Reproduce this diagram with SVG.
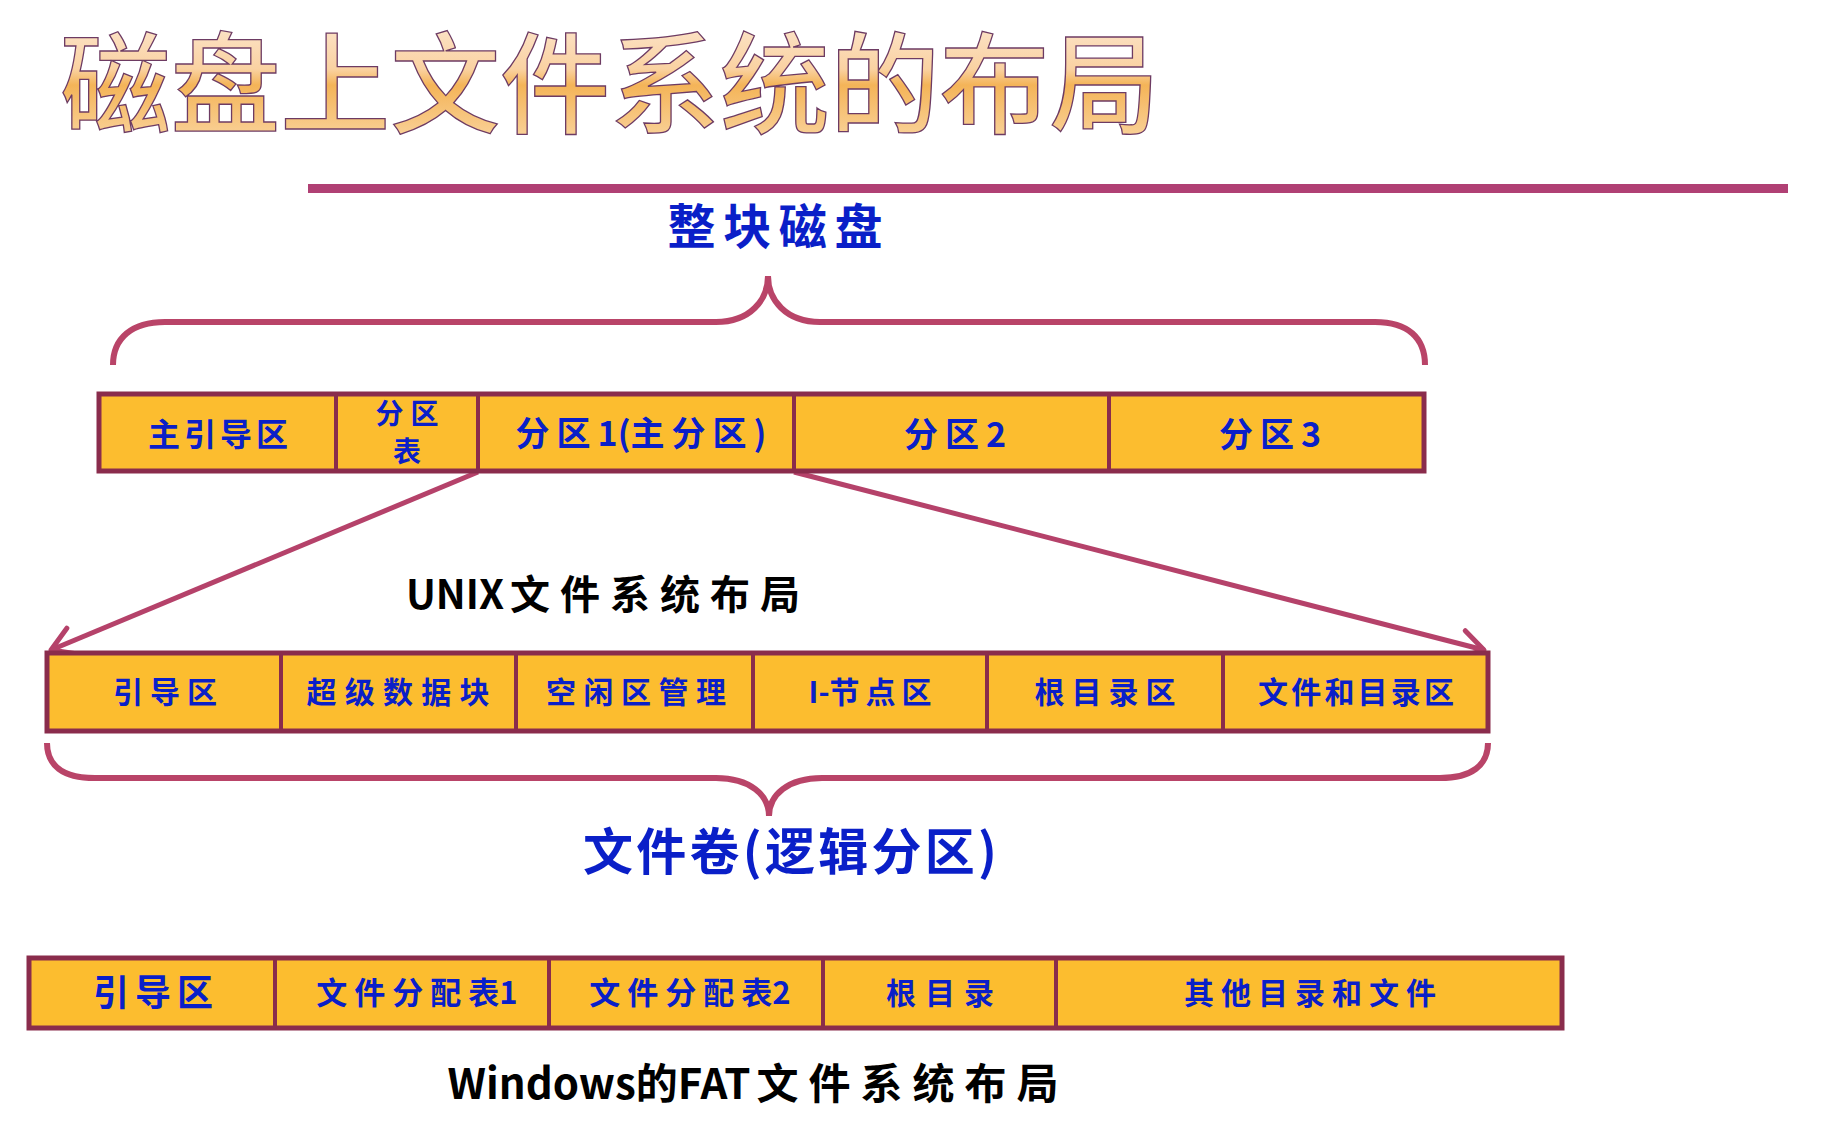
<svg xmlns="http://www.w3.org/2000/svg" width="1828" height="1134" viewBox="0 0 1828 1134">
<defs>
<linearGradient id="tg" x1="0" y1="0" x2="0" y2="1">
<stop offset="0" stop-color="#fdeee0"/>
<stop offset="0.45" stop-color="#fad2a2"/>
<stop offset="0.55" stop-color="#f4b458"/>
<stop offset="1" stop-color="#fbdcb0"/>
</linearGradient>
<marker id="ah" viewBox="-28 -18 32 36" markerWidth="32" markerHeight="36" refX="0" refY="0" orient="auto" markerUnits="userSpaceOnUse">
<path d="M-23,-14 L0,0 L-23,14" fill="none" stroke="#b5426a" stroke-width="5" stroke-linecap="round" stroke-linejoin="round"/>
</marker>
<style>
.cell{fill:#fcbd2f;stroke:#8a2c4c;stroke-width:4}
.lbl{font-family:"Noto Sans CJK SC","Noto Sans",sans-serif;font-weight:700;fill:#0a1fc8;text-anchor:middle}
.blk{font-family:"Noto Sans CJK SC","Noto Sans",sans-serif;font-weight:700;fill:#000;text-anchor:middle}
.brace{fill:none;stroke:#b94468;stroke-width:6;stroke-linecap:butt}
.conn{fill:none;stroke:#b5426a;stroke-width:5}
</style>
</defs>
<rect width="1828" height="1134" fill="#fff"/>
<text x="610" y="125" font-family="'Noto Sans CJK SC',sans-serif" font-weight="500" font-size="110" fill="url(#tg)" stroke="#6d3b63" stroke-width="1.3" text-anchor="middle" textLength="1099" lengthAdjust="spacing">磁盘上文件系统的布局</text>
<rect x="308" y="184" width="1480" height="9" fill="#b04074"/>
<g id="label-disk"><text class="lbl" x="775" y="244" font-size="48" textLength="215" lengthAdjust="spacing">整块磁盘</text></g>
<g id="connectors">
<path class="brace" d="M113,365 C113,338 132,322 165,322 L716,322 C750,322 768,300 768,276 C768,300 786,322 820,322 L1375,322 C1408,322 1425,338 1425,365"/>
<path class="brace" d="M47,743 C47,765 62,778 95,778 L716,778 C750,778 769,795 769,816 C769,795 788,778 822,778 L1440,778 C1472,778 1488,765 1488,743"/>
<line class="conn" x1="478" y1="472" x2="51" y2="650" marker-end="url(#ah)"/>
<line class="conn" x1="794" y1="472" x2="1484" y2="650" marker-end="url(#ah)"/>
</g>
<g id="disk-row">
<g id="n-mbr"><rect class="cell" x="99" y="394" width="237" height="77"/><text class="lbl" x="218" y="446" font-size="32" textLength="140" lengthAdjust="spacing">主引导区</text></g>
<g id="n-ptable"><rect class="cell" x="336" y="394" width="142" height="77"/><text class="lbl" x="407" y="424" font-size="28" textLength="63" lengthAdjust="spacing">分区</text><text class="lbl" x="407" y="462" font-size="28">表</text></g>
<g id="n-p1"><rect class="cell" x="478" y="394" width="316" height="77"/><text class="lbl" x="641" y="446" font-size="34"><tspan letter-spacing="7">分区</tspan><tspan>1(</tspan><tspan letter-spacing="7">主分区</tspan><tspan>)</tspan></text></g>
<g id="n-p2"><rect class="cell" x="794" y="394" width="315" height="77"/><text class="lbl" x="955" y="447" font-size="34"><tspan letter-spacing="7">分区</tspan><tspan>2</tspan></text></g>
<g id="n-p3"><rect class="cell" x="1109" y="394" width="315" height="77"/><text class="lbl" x="1270" y="447" font-size="34"><tspan letter-spacing="7">分区</tspan><tspan>3</tspan></text></g>
<rect x="99" y="394" width="1325" height="77" fill="none" stroke="#8a2c4c" stroke-width="5"/>
</g>
<g id="label-unix"><text class="blk" x="608" y="609" font-size="40"><tspan>UNIX</tspan><tspan dx="6" letter-spacing="10">文件系统布局</tspan></text></g>
<g id="unix-row">
<g id="u-boot"><rect class="cell" x="47" y="653" width="234" height="78"/><text class="lbl" x="165" y="703" font-size="30" textLength="104" lengthAdjust="spacing">引导区</text></g>
<g id="u-super"><rect class="cell" x="281" y="653" width="235" height="78"/><text class="lbl" x="398" y="703" font-size="30" textLength="183" lengthAdjust="spacing">超级数据块</text></g>
<g id="u-free"><rect class="cell" x="516" y="653" width="237" height="78"/><text class="lbl" x="636" y="703" font-size="30" textLength="180" lengthAdjust="spacing">空闲区管理</text></g>
<g id="u-inode"><rect class="cell" x="753" y="653" width="234" height="78"/><text class="lbl" x="873" y="703" font-size="30"><tspan>I-</tspan><tspan letter-spacing="6">节点区</tspan></text></g>
<g id="u-root"><rect class="cell" x="987" y="653" width="236" height="78"/><text class="lbl" x="1105" y="703" font-size="30" textLength="141" lengthAdjust="spacing">根目录区</text></g>
<g id="u-files"><rect class="cell" x="1223" y="653" width="265" height="78"/><text class="lbl" x="1356" y="703" font-size="30" textLength="196" lengthAdjust="spacing">文件和目录区</text></g>
<rect x="47" y="653" width="1441" height="78" fill="none" stroke="#8a2c4c" stroke-width="5"/>
</g>
<g id="label-volume"><text class="lbl" x="790" y="870" font-size="50" textLength="414" lengthAdjust="spacing">文件卷(逻辑分区)</text></g>
<g id="fat-row">
<g id="f-boot"><rect class="cell" x="29" y="958" width="246" height="70"/><text class="lbl" x="153" y="1006" font-size="36" textLength="120" lengthAdjust="spacing">引导区</text></g>
<g id="f-fat1"><rect class="cell" x="275" y="958" width="274" height="70"/><text class="lbl" x="417" y="1004" font-size="31"><tspan letter-spacing="7">文件分配</tspan><tspan>表1</tspan></text></g>
<g id="f-fat2"><rect class="cell" x="549" y="958" width="274" height="70"/><text class="lbl" x="690" y="1004" font-size="31"><tspan letter-spacing="7">文件分配</tspan><tspan>表2</tspan></text></g>
<g id="f-root"><rect class="cell" x="823" y="958" width="233" height="70"/><text class="lbl" x="940" y="1004" font-size="30" textLength="108" lengthAdjust="spacing">根目录</text></g>
<g id="f-other"><rect class="cell" x="1056" y="958" width="506" height="70"/><text class="lbl" x="1310" y="1004" font-size="30" textLength="252" lengthAdjust="spacing">其他目录和文件</text></g>
<rect x="29" y="958" width="1533" height="70" fill="none" stroke="#8a2c4c" stroke-width="5"/>
</g>
<g id="label-fat"><text class="blk" x="758" y="1099" font-size="42"><tspan>Windows的FAT</tspan><tspan dx="6" letter-spacing="10">文件系统布局</tspan></text></g>
</svg>
